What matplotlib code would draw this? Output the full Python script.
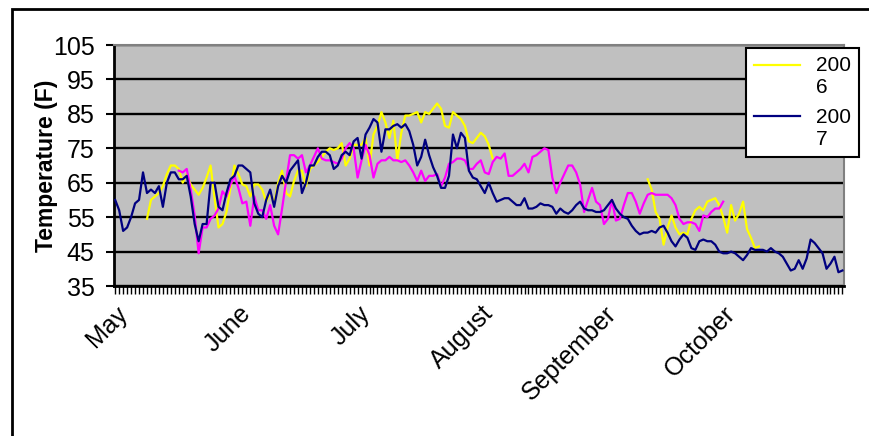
import matplotlib

matplotlib.use("Agg")
import matplotlib.pyplot as plt
from matplotlib.legend_handler import HandlerLine2D
from matplotlib.patches import Rectangle
from matplotlib.ticker import FixedLocator, MultipleLocator

# daily temperatures, day 0 = May 1
temp_2007 = [
    60, 57, 51, 52, 55, 59, 60, 68, 62, 63,
    62, 64, 58, 65, 68, 68, 66, 66, 67, 61,
    53, 48, 53, 53, 65, 65, 58, 57, 62, 66,
    67, 70, 70, 69, 68, 59, 56, 55, 60, 63,
    58, 64, 67, 65, 68.5, 70, 71.5, 62, 65, 70,
    70, 72.5, 74, 74, 73, 69, 70, 73, 74, 73,
    77, 78, 72, 79, 81, 83.5, 82.5, 74, 80.5, 80.5,
    81.5, 82, 81, 82, 80, 76, 70, 72.5, 77.5, 73,
    69.5, 67, 63.5, 63.5, 67, 79, 75, 79.5, 78, 68.5,
    66.5, 66, 64, 62, 65, 62, 59.5, 60, 60.5, 60.5,
    59.5, 58.5, 58.5, 60.5, 57.5, 57.5, 58, 59, 58.5, 58.5,
    58, 56, 57.5, 56.5, 56, 57, 58.5, 59.5, 57.5, 57,
    57, 56.5, 56.5, 57, 58.5, 60, 57.5, 56, 55, 54.5,
    52.5, 51, 50, 50.5, 50.5, 51, 50.5, 52, 52.5, 50.5,
    48, 46.5, 48.5, 50, 49, 46, 45.5, 48, 48.5, 48,
    48, 47, 45, 44.5, 44.5, 45, 44.5, 43.5, 42.5, 44,
    46, 45.5, 45.5, 45.5, 45, 46, 45, 44.5, 43.5, 41.5,
    39.5, 40, 42.5, 40, 43, 48.5, 47.5, 46, 44.5, 40,
    41.5, 43.5, 39, 39.5,
]

temp_2006_a_start = 8
temp_2006_a = [
    54.5, 60, 61, 62, 64, 67.5, 70, 70, 69, 65,
    67.5, 64.5, 63, 61.5, 63.5, 66.5, 70, 60.5, 52, 53,
    56.5, 63.5, 70, 67.5, 64.5, 64, 61, 64.5, 64.5, 63,
    59.5, 62, 59, 65, 68.5, 62, 61, 65.5, 68.5, 68.5,
    64, 69, 70, 71, 72.5, 74, 75, 74.5, 75, 76.5,
    70, 72, 76, 76, 76, 78, 70, 79, 81.5, 85.5,
    82.5, 78, 83, 71.5, 79.5, 84.5, 84.5, 85, 85.5, 82.5,
    85.5, 85, 86.5, 88, 86.5, 81.5, 81, 85.5, 84.5, 83.5,
    81.5, 77, 76.5, 78, 79.5, 78.5, 76, 72,
]

temp_2006_b_start = 134
temp_2006_b = [
    66, 63, 56.5, 54.5, 47, 52, 55.5, 52, 50, 50.5,
    50, 54.5, 57, 58, 57, 59.5, 60, 60.5, 58.5, 55,
    50.5, 58.5, 54, 56, 59.5, 51.5, 49, 46, 46.5,
]

temp_other_start = 16
temp_other = [
    68.5, 68, 69, 63, 55.5, 44.5, 52, 52, 54.5, 55.5,
    57.5, 62.5, 61, 64.5, 67,
    63.5, 59, 59.5, 52.5, 61, 57, 57, 54.5, 58.5, 52.5,
    50, 57.5, 65.5, 73, 73, 72, 73, 68, 70, 72.5,
    75, 72, 71.5, 71.5, 71, 70.5, 72, 75, 76.5, 75, 66.5,
    71.5, 76, 73, 66.5, 70.5, 71.5, 71.5, 72.5, 71.5, 71.5,
    71, 71.5, 70, 68, 65.5, 68.5, 65.5, 67, 67, 67.5,
    64, 66.5, 70.5, 71, 72, 72, 71.5, 69, 69, 70.5, 71.5,
    68, 67.5, 71, 72.5, 72, 73.5, 67, 67, 68, 69,
    70.5, 68, 72.5, 73, 74, 75, 74.5, 66.5, 62, 65,
    67.5, 70, 70, 68, 64.5, 56.5, 60, 63.5, 59.5, 58.5, 53,
    54.5, 60, 54, 54.5, 58.5, 62, 62, 59.5, 56, 59,
    61.5, 62, 61.5, 61.5, 61.5, 61.5, 60.5, 58.5, 54.5, 53,
    53.5, 53.5, 53, 51, 55.5, 55, 56.5, 57.5, 57.5, 59.5,
]

month_labels = ["May", "June", "July", "August", "September", "October"]
month_starts = [0, 31, 61, 92, 123, 153]
y_ticks = [35, 45, 55, 65, 75, 85, 95, 105]


class _TopLineHandler(HandlerLine2D):
    # Excel puts the legend line next to the first line of a wrapped label
    def create_artists(self, legend, orig_handle, xdescent, ydescent,
                       width, height, fontsize, trans):
        arts = super().create_artists(legend, orig_handle, xdescent, ydescent,
                                      width, height, fontsize, trans)
        for a in arts:
            a.set_ydata([y + 0.6 * fontsize for y in a.get_ydata()])
        return arts


plt.rcParams["font.family"] = ["Liberation Sans", "DejaVu Sans"]

W, H = 870, 436
fig = plt.figure(figsize=(W / 100, H / 100), dpi=100)
ax = fig.add_axes([114 / W, 1 - 286 / H, 730 / W, 241 / H])
ax.set_facecolor("#c0c0c0")

days = list(range(len(temp_2007)))
d06a = list(range(temp_2006_a_start, temp_2006_a_start + len(temp_2006_a)))
d06b = list(range(temp_2006_b_start, temp_2006_b_start + len(temp_2006_b)))
d_oth = list(range(temp_other_start, temp_other_start + len(temp_other)))

lw = 1.6
l06, = ax.plot(d06a, temp_2006_a, color="#ffff00", lw=lw, zorder=3)
ax.plot(d06b, temp_2006_b, color="#ffff00", lw=lw, zorder=3)
l07, = ax.plot(days, temp_2007, color="#000080", lw=lw, zorder=4)
ax.plot(d_oth, temp_other, color="#ff00ff", lw=lw, zorder=3.5)

ax.set_ylim(35, 105)
ax.set_xlim(-0.3, 183.4)
ax.set_yticks(y_ticks)
ax.yaxis.grid(True, color="black", lw=1.7)
ax.set_axisbelow(True)

ax.xaxis.set_major_locator(FixedLocator(month_starts))
ax.xaxis.set_minor_locator(MultipleLocator(1))
ax.set_xticklabels(month_labels, rotation=45, ha="right", va="top",
                   rotation_mode="anchor", fontsize=18)
ax.tick_params(axis="x", which="both", direction="out", length=6, width=1, pad=5)
ax.tick_params(axis="y", direction="out", length=6, width=1.5, labelsize=18, pad=8)

for side in ("top", "right"):
    ax.spines[side].set_color("#808080")
    ax.spines[side].set_linewidth(1.5)
ax.spines["left"].set_linewidth(2)
ax.spines["bottom"].set_linewidth(2)

ax.set_ylabel("Temperature (F)", fontsize=16.5, fontweight="bold", labelpad=-4)

leg = fig.legend([l06, l07], ["200\n6", "200\n7"], loc="upper left",
                 bbox_to_anchor=(746 / W, 1 - 48 / H),
                 borderaxespad=0, fontsize=15, handlelength=2.2,
                 handletextpad=0.75, labelspacing=0.5, borderpad=0.4,
                 fancybox=False, framealpha=1,
                 handler_map={l06: _TopLineHandler(), l07: _TopLineHandler()})
leg.get_frame().set_edgecolor("black")
leg.get_frame().set_linewidth(1.5)

# outer chart frame (only top and left edges show)
fig.add_artist(Rectangle((12 / W, -0.1), 1.2, 1.1 - 9 / H, transform=fig.transFigure,
                         fill=False, edgecolor="black", lw=2))

fig.savefig("out.png", dpi=100)
